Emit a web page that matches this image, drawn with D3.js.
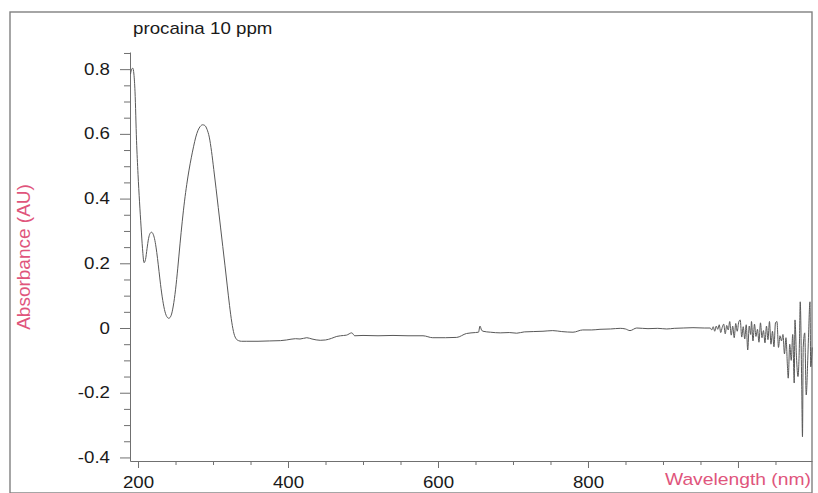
<!DOCTYPE html>
<html>
<head>
<meta charset="utf-8">
<script src="https://cdn.jsdelivr.net/npm/d3@7"></script>
<style>
  body { margin: 0; background: #fff; }
  text { font-family: "Liberation Sans", Arial, sans-serif; }
</style>
</head>
<body>
<div id="chart"></div>
<script>
// UV-Vis spectrum
const peakNm = [190, 191.5, 193, 194.5, 196, 198, 200, 202, 204, 206, 208, 210, 212, 214, 216, 218, 220, 222, 224, 226, 228, 230, 233, 236, 239, 241, 244, 247, 250, 253, 256, 259, 262, 265, 268, 271, 274, 277, 280, 283, 286, 289, 292, 295, 298, 301, 304, 307, 310, 313, 316, 319, 322, 325, 328, 331, 334, 338];
const peakAbs = [0.785, 0.800, 0.803, 0.785, 0.730, 0.580, 0.475, 0.390, 0.315, 0.245, 0.202, 0.212, 0.245, 0.276, 0.292, 0.296, 0.291, 0.276, 0.250, 0.215, 0.175, 0.135, 0.085, 0.050, 0.033, 0.030, 0.038, 0.068, 0.118, 0.185, 0.260, 0.330, 0.392, 0.444, 0.488, 0.526, 0.560, 0.590, 0.611, 0.623, 0.628, 0.626, 0.614, 0.590, 0.546, 0.490, 0.432, 0.372, 0.312, 0.252, 0.192, 0.130, 0.070, 0.018, -0.018, -0.034, -0.039, -0.041];

const baseNm = [345, 360, 375, 390, 398, 410, 416, 425, 432, 443, 450, 458, 465, 470, 478, 485, 489, 500, 520, 540, 560, 580, 593, 610, 625, 638, 650, 654, 656, 658, 660, 670, 683, 695, 705, 715, 727, 740, 753, 765, 780, 793, 805, 816, 830, 843, 850, 856, 865, 880, 893, 905, 915, 927, 940, 955, 963];
const baseAbs = [-0.041, -0.041, -0.040, -0.039, -0.037, -0.033, -0.034, -0.030, -0.034, -0.038, -0.037, -0.032, -0.026, -0.024, -0.022, -0.015, -0.024, -0.023, -0.024, -0.023, -0.024, -0.024, -0.030, -0.030, -0.029, -0.017, -0.014, -0.013, 0.006, -0.006, -0.010, -0.013, -0.015, -0.014, -0.016, -0.012, -0.011, -0.010, -0.008, -0.011, -0.013, -0.006, -0.006, -0.004, -0.003, -0.001, -0.003, -0.008, 0.000, -0.002, -0.001, -0.003, -0.001, 0.000, 0.001, 0.000, 0.000];

const noiseNm = [965, 967, 969, 971, 973, 975, 977, 979, 981, 983, 985, 987, 989, 991, 993, 995, 997, 999, 1001, 1003, 1005, 1007, 1009, 1011, 1013, 1015, 1017, 1018, 1020, 1022, 1024, 1026, 1028, 1030, 1032, 1034, 1036, 1038, 1040, 1042, 1044, 1046, 1048, 1050, 1052, 1054, 1056, 1058, 1060, 1062, 1064, 1066, 1067, 1069, 1071, 1073, 1075, 1076, 1078, 1080, 1082, 1083, 1085, 1086, 1087, 1089, 1091, 1093, 1094, 1096, 1097, 1099];
const noiseAbs = [-0.006, 0.004, -0.010, 0.006, -0.004, 0.010, -0.014, 0.002, 0.012, -0.018, 0.008, -0.006, 0.020, -0.022, 0.006, -0.030, 0.014, -0.010, 0.018, 0.025, -0.028, 0.004, -0.034, 0.010, -0.068, 0.006, -0.020, 0.020, -0.040, 0.012, -0.026, -0.004, -0.044, 0.016, -0.030, -0.008, -0.046, 0.006, -0.036, 0.020, -0.050, -0.010, -0.058, 0.016, 0.020, -0.060, -0.024, -0.040, -0.020, -0.080, -0.030, -0.120, -0.155, -0.050, -0.100, -0.020, -0.170, 0.025, -0.090, -0.150, -0.040, 0.081, -0.180, -0.336, -0.060, -0.015, -0.207, -0.100, -0.030, 0.081, -0.120, -0.060];

const yTicks = [-0.4, -0.2, 0, 0.2, 0.4, 0.6, 0.8];
const yTickLabels = ["-0.4", "-0.2", "0", "0.2", "0.4", "0.6", "0.8"];
const yMinor = [-0.35, -0.3, -0.25, -0.15, -0.1, -0.05, 0.05, 0.1, 0.15, 0.25, 0.3, 0.35, 0.45, 0.5, 0.55, 0.65, 0.7, 0.75, 0.85];
const xTicks = [200, 400, 600, 800, 1000];
const xTickLabels = ["200", "400", "600", "800", ""];
const xMinor = [250, 300, 350, 450, 500, 550, 650, 700, 750, 850, 900, 950, 1050];

const title = "procaina 10 ppm";
const xTitle = "Wavelength (nm)";
const yTitle = "Absorbance (AU)";

const width = 818, height = 493;
const margin = { top: 52, right: 6, bottom: 32, left: 130 };
const stretch = 1.17; // the scan is a little wider than tall
const pink = "#e0557c";

const svg = d3.select("#chart").append("svg")
  .attr("width", width)
  .attr("height", height);

const root = svg.append("g");

root.append("rect")
  .attr("x", 10).attr("y", 12)
  .attr("width", 802).attr("height", 481)
  .attr("fill", "none")
  .attr("stroke", "#808080")
  .attr("stroke-width", 1.4);

const x = d3.scaleLinear().domain([189.3, 1098.7]).range([margin.left, width - margin.right]);
const y = d3.scaleLinear().domain([-0.411, 0.853]).range([height - margin.bottom, margin.top]);

const data = [];
peakNm.forEach((d, i) => data.push([d, peakAbs[i]]));
baseNm.forEach((d, i) => data.push([d, baseAbs[i]]));
noiseNm.forEach((d, i) => data.push([d, noiseAbs[i]]));

// minor ticks first, then major with labels
root.append("g")
  .attr("transform", `translate(${margin.left},0)`)
  .call(d3.axisLeft(y).tickValues(yMinor).tickSize(6).tickFormat("").tickSizeOuter(0))
  .call(g => g.select(".domain").remove());

root.append("g")
  .attr("transform", `translate(0,${height - margin.bottom})`)
  .call(d3.axisBottom(x).tickValues(xMinor).tickSize(4).tickFormat("").tickSizeOuter(0))
  .call(g => g.select(".domain").remove());

const yAxis = root.append("g")
  .attr("transform", `translate(${margin.left},0)`)
  .call(d3.axisLeft(y).tickValues(yTicks).tickSize(10).tickPadding(7.1).tickSizeOuter(0)
    .tickFormat((d, i) => yTickLabels[i]));

const xAxis = root.append("g")
  .attr("transform", `translate(0,${height - margin.bottom})`)
  .call(d3.axisBottom(x).tickValues(xTicks).tickSize(7).tickPadding(8.3).tickSizeOuter(0)
    .tickFormat((d, i) => xTickLabels[i]));

root.selectAll(".tick line, .domain").attr("stroke", "#707070");
yAxis.selectAll(".tick text").attr("font-size", 16).attr("fill", "#1a1a1a").attr("transform", `scale(${stretch},1)`);
xAxis.selectAll(".tick text").attr("font-size", 16).attr("fill", "#1a1a1a").attr("transform", `scale(${stretch},1)`);
root.selectAll("g[font-family]").attr("font-family", null);

const line = d3.line()
  .x(d => x(d[0]))
  .y(d => y(d[1]))
  .curve(d3.curveMonotoneX);

root.append("path")
  .datum(data)
  .attr("fill", "none")
  .attr("stroke", "#585858")
  .attr("stroke-width", 1)
  .attr("d", line);

root.append("g")
  .attr("transform", `translate(133,34) scale(${stretch},1)`)
  .append("text")
  .attr("font-size", 16)
  .attr("fill", "#1a1a1a")
  .text(title);

root.append("g")
  .attr("transform", `translate(811,485) scale(${stretch},1)`)
  .append("text")
  .attr("text-anchor", "end")
  .attr("font-size", 16.5)
  .attr("fill", pink)
  .text(xTitle);

root.append("text")
  .attr("transform", "translate(30,257) rotate(-90)")
  .attr("text-anchor", "middle")
  .attr("font-size", 19)
  .attr("fill", pink)
  .text(yTitle);
</script>
</body>
</html>
